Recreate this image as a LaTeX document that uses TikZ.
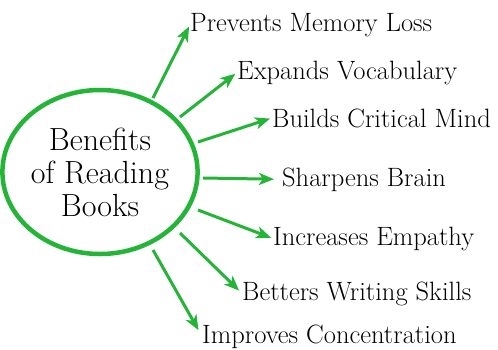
\documentclass[tikz,border=0pt]{standalone}
\definecolor{readgreen}{RGB}{36, 180, 56}
\usepackage{tikz}
\usetikzlibrary{arrows.meta, positioning, shapes.geometric}
\tikzset{
  benefit/.style={anchor=base west, inner sep=0pt, font=\fontsize{26.5}{30}\selectfont},
  benefitarrow/.style={draw=readgreen, line width=3pt, shorten >=2pt,
    -{Stealth[length=15pt, width=12pt, inset=4pt]}}
}

\begin{document}
\begin{tikzpicture}[x=1pt, y=-1pt]
  \useasboundingbox (0,0) rectangle (498,349);

  % Centre circle
  \node[draw=readgreen, line width=4.5pt, ellipse, minimum width=172pt, minimum height=164pt, inner sep=0pt,
        align=center, font=\fontsize{32}{33}\selectfont] (main) at (100,172) {Benefits\\of Reading\\Books};

  % Benefits
  \node[benefit] (memory) at (190,31) {Prevents Memory Loss};
  \node[benefit] (vocab) at (237,79) {Expands Vocabulary};
  \node[benefit] (critical) at (272,127) {Builds Critical Mind};
  \node[benefit] (brain) at (282,186) {Sharpens Brain};
  \node[benefit] (empathy) at (273,245) {Increases Empathy};
  \node[benefit] (writing) at (242,300) {Betters Writing Skills};
  \node[benefit] (focus) at (202,343) {Improves Concentration};

  % Arrow starts, just off the circle
  \coordinate (s1) at (153,98);
  \coordinate (s2) at (180,117);
  \coordinate (s3) at (198,142);
  \coordinate (s4) at (203,178);
  \coordinate (s5) at (198,210);
  \coordinate (s6) at (180,233);
  \coordinate (s7) at (153,250);

  \draw[benefitarrow] (s1) -- (memory.west);
  \draw[benefitarrow] (s2) -- (vocab.west);
  \draw[benefitarrow] (s3) -- (critical.west);
  \draw[benefitarrow, shorten >=8pt] (s4) -- (brain.west);
  \draw[benefitarrow] (s5) -- (empathy.west);
  \draw[benefitarrow, shorten >=4pt] (s6) -- (writing.west);
  \draw[benefitarrow, shorten >=7pt] (s7) -- (focus.west);
\end{tikzpicture}
\end{document}
